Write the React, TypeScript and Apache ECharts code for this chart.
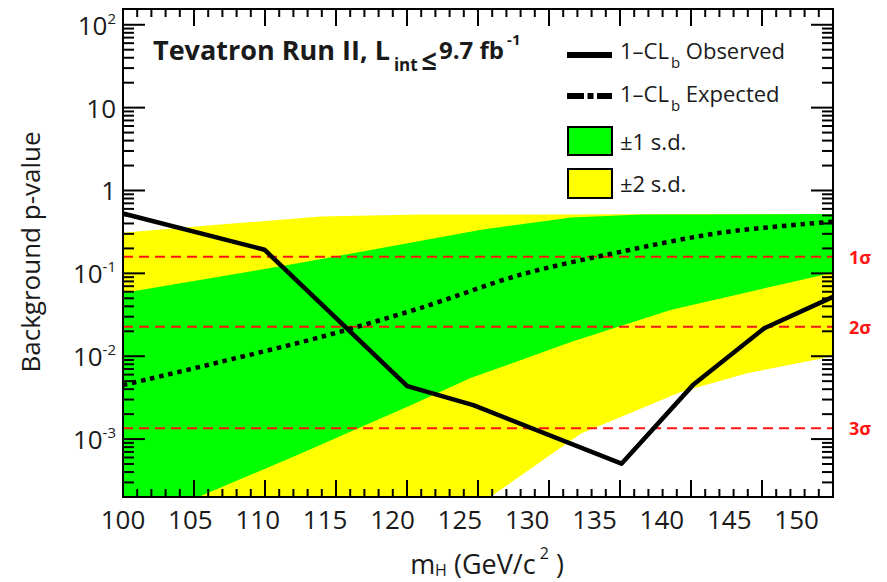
import React, { useEffect, useRef } from 'react';
import * as echarts from 'echarts';

// Axis ranges
const massMin = 100;
const massMax = 152.7;
const pMin = 2e-4;
const pMax = 155;
// Scale used for the frame tick marks (bottom and top edges)
const tickScaleMin = 100;
const tickScaleMax = 150;

// Observed 1-CL_b
const observedMass = [100, 110.5, 121.1, 126.0, 137.0, 142.3, 147.6, 152.7];
const observedP = [0.527, 0.193, 0.00436, 0.00257, 0.000505, 0.00448, 0.0218, 0.052];

// Expected 1-CL_b
const expectedMass = [100, 107.2, 114.7, 122.1, 129.5, 137.0, 144.4, 152.7];
const expectedP = [0.00448, 0.00851, 0.0171, 0.0383, 0.0962, 0.183, 0.31, 0.421];

// +-1 s.d. band
const oneSigmaUpperMass = [100, 113.2, 126.6, 133.3, 138.5, 152.7];
const oneSigmaUpperP = [0.058, 0.134, 0.337, 0.471, 0.512, 0.52];
const oneSigmaLowerMass = [100, 105.5, 113.2, 121.4, 125.8, 133.3, 140.7, 148.1, 152.7];
const oneSigmaLowerP = [8.1e-5, 1.97e-4, 6.7e-4, 2.57e-3, 5.45e-3, 0.0149, 0.0363, 0.0689, 0.102];

// +-2 s.d. band
const twoSigmaUpperMass = [100, 107.2, 114.7, 122.1, 152.7];
const twoSigmaUpperP = [0.31, 0.388, 0.484, 0.512, 0.52];
const twoSigmaLowerMass = [100, 120.6, 127.2, 134.0, 141.4, 146.4, 151.3, 152.7];
const twoSigmaLowerP = [1e-7, 3.4e-5, 1.97e-4, 1.17e-3, 3.69e-3, 6.26e-3, 9.0e-3, 0.01];

// Significance reference levels
const sigmaP = [0.1587, 0.02275, 0.00135];
const sigmaLabels = ['1σ', '2σ', '3σ'];

const FONT = '"Open Sans", "DejaVu Sans", sans-serif';
const INK = '#1a1a1a';
const RED = '#ff1414';
const GREEN = '#00ff00';
const YELLOW = '#ffff00';

const zip = (xs: number[], ys: number[]) => xs.map((x, i) => [x, ys[i]]);

// Rich-text helpers: a middle-aligned token moves down by half its top padding
// and up by half its bottom padding.
const subStyle = (size: number, drop: number, weight = 'normal', padLeft = 0) => ({
  fontSize: size,
  fontWeight: weight,
  fontFamily: FONT,
  fill: INK,
  color: INK,
  padding: [drop * 2, 0, 0, padLeft],
});
const supStyle = (size: number, rise: number, weight = 'normal', padLeft = 0) => ({
  fontSize: size,
  fontWeight: weight,
  fontFamily: FONT,
  fill: INK,
  color: INK,
  padding: [0, 0, rise * 2, padLeft],
});

function bandRenderer(ux: number[], up: number[], lx: number[], lp: number[], color: string) {
  return (params: any, api: any) => {
    const pts: number[][] = [];
    for (let i = 0; i < ux.length; i++) pts.push(api.coord([ux[i], up[i]]));
    for (let i = lx.length - 1; i >= 0; i--) pts.push(api.coord([lx[i], lp[i]]));
    const cs = params.coordSys;
    return {
      type: 'group',
      clipPath: { type: 'rect', shape: { x: cs.x, y: cs.y, width: cs.width, height: cs.height } },
      children: [{ type: 'polygon', shape: { points: pts }, style: { fill: color, stroke: null } }],
    };
  };
}

// Log-axis ticks on the left and right edges, plus the plot frame
function renderFrameY(params: any, api: any) {
  const cs = params.coordSys;
  const left = cs.x;
  const right = cs.x + cs.width;
  const children: any[] = [];
  for (let e = -4; e <= 2; e++) {
    for (let m = 1; m <= 9; m++) {
      const v = m * Math.pow(10, e);
      if (v < pMin || v > pMax) continue;
      const y = api.coord([massMin, v])[1];
      const len = m === 1 ? 22 : 11;
      children.push({ type: 'line', shape: { x1: left, y1: y, x2: left + len, y2: y }, style: { stroke: '#000', lineWidth: 2 } });
      children.push({ type: 'line', shape: { x1: right - len, y1: y, x2: right, y2: y }, style: { stroke: '#000', lineWidth: 2 } });
    }
  }
  children.push({
    type: 'rect',
    shape: { x: cs.x, y: cs.y, width: cs.width, height: cs.height },
    style: { fill: 'none', stroke: '#000', lineWidth: 2 },
  });
  return { type: 'group', children };
}

// Linear ticks on the bottom and top edges
function renderFrameX(params: any, api: any) {
  const cs = params.coordSys;
  const top = cs.y;
  const bottom = cs.y + cs.height;
  const children: any[] = [];
  for (let t = tickScaleMin; t <= tickScaleMax; t++) {
    const x = api.coord([t, 1])[0];
    const len = t % 5 === 0 ? 17 : 8;
    children.push({ type: 'line', shape: { x1: x, y1: bottom, x2: x, y2: bottom - len }, style: { stroke: '#000', lineWidth: 2 } });
    children.push({ type: 'line', shape: { x1: x, y1: top, x2: x, y2: top + len }, style: { stroke: '#000', lineWidth: 2 } });
  }
  return { type: 'group', children };
}

const legendText = (y: number, text: string) => ({
  type: 'text',
  x: 620,
  y,
  z: 100,
  style: {
    text,
    textAlign: 'left',
    textVerticalAlign: 'middle',
    rich: {
      a: { fontSize: 22, fontFamily: FONT, fill: INK },
      sub: subStyle(15, 12, 'normal', 2),
    },
  },
});

function buildOption(): any {
  const sigmaSeries = sigmaP.map((p, i) => ({
    type: 'line',
    name: sigmaLabels[i],
    data: [[massMin, p], [massMax, p]],
    symbol: 'none',
    silent: true,
    z: 2,
    lineStyle: { color: RED, width: 2, type: [10, 6] },
    endLabel: {
      show: true,
      formatter: () => sigmaLabels[i],
      color: RED,
      fontSize: 18,
      fontWeight: 'bold',
      fontFamily: FONT,
      distance: 16,
    },
  }));

  return {
    animation: false,
    backgroundColor: '#ffffff',
    grid: { left: 123, top: 9, width: 710, height: 488, outerBoundsMode: 'none', containLabel: false },
    xAxis: [
      {
        type: 'value',
        min: massMin,
        max: massMax,
        interval: 5,
        position: 'bottom',
        axisLine: { show: false },
        axisTick: { show: false },
        splitLine: { show: false },
        axisLabel: {
          fontSize: 26,
          fontFamily: FONT,
          color: INK,
          margin: 9,
          showMaxLabel: false,
          formatter: (v: number) => (Math.abs(v % 5) < 1e-6 ? String(v) : ''),
        },
      },
      { type: 'value', min: tickScaleMin, max: tickScaleMax, show: false },
    ],
    yAxis: {
      type: 'log',
      logBase: 10,
      min: pMin,
      max: pMax,
      splitNumber: 6,
      axisLine: { show: false },
      axisTick: { show: false },
      splitLine: { show: false },
      axisLabel: {
        margin: 7,
        formatter: (v: number) => {
          const e = Math.log10(v);
          const r = Math.round(e);
          if (Math.abs(e - r) > 1e-6) return '';
          if (r === 0) return '{b|1}';
          if (r === 1) return '{b|10}';
          return `{b|10}{s|${r}}`;
        },
        rich: {
          b: { fontSize: 26, fontFamily: FONT, color: INK },
          s: supStyle(15, 7),
        },
      },
    },
    series: [
      {
        type: 'custom',
        name: '±2 s.d.',
        xAxisIndex: 0,
        yAxisIndex: 0,
        z: 1,
        silent: true,
        clip: true,
        data: [[massMin, 1]],
        renderItem: bandRenderer(twoSigmaUpperMass, twoSigmaUpperP, twoSigmaLowerMass, twoSigmaLowerP, YELLOW),
      },
      {
        type: 'custom',
        name: '±1 s.d.',
        xAxisIndex: 0,
        yAxisIndex: 0,
        z: 1,
        silent: true,
        clip: true,
        data: [[massMin, 1]],
        renderItem: bandRenderer(oneSigmaUpperMass, oneSigmaUpperP, oneSigmaLowerMass, oneSigmaLowerP, GREEN),
      },
      ...sigmaSeries,
      {
        type: 'line',
        name: '1-CLb Expected',
        data: zip(expectedMass, expectedP),
        symbol: 'none',
        smooth: 0.3,
        silent: true,
        z: 3,
        lineStyle: { color: '#000', width: 4.5, type: [4.5, 4.8], cap: 'butt' },
      },
      {
        type: 'line',
        name: '1-CLb Observed',
        data: zip(observedMass, observedP),
        symbol: 'none',
        silent: true,
        z: 4,
        lineStyle: { color: '#000', width: 4.5, join: 'round' },
      },
      {
        type: 'custom',
        xAxisIndex: 0,
        yAxisIndex: 0,
        z: 10,
        silent: true,
        data: [[massMin, 1]],
        renderItem: renderFrameY,
      },
      {
        type: 'custom',
        xAxisIndex: 1,
        yAxisIndex: 0,
        z: 10,
        silent: true,
        data: [[tickScaleMin, 1]],
        renderItem: renderFrameX,
      },
    ],
    graphic: {
      elements: [
        {
          type: 'text',
          x: 153,
          y: 49,
          z: 100,
          style: {
            text: '{a|Tevatron Run II, L}{sub|int}{le|≤}{b|9.7 fb}{sup|-1}',
            textAlign: 'left',
            textVerticalAlign: 'middle',
            rich: {
              a: { fontSize: 27, fontWeight: 'bold', fontFamily: FONT, fill: INK },
              b: { fontSize: 24, fontWeight: 'bold', fontFamily: FONT, fill: INK },
              le: { fontSize: 27, fontWeight: 'bold', fontFamily: FONT, fill: INK, padding: [20, 2, 0, 4] },
              sub: subStyle(17, 15, 'bold', 4),
              sup: supStyle(15, 10, 'bold', 3),
            },
          },
        },
        // legend samples
        { type: 'line', z: 100, shape: { x1: 567, y1: 55, x2: 612, y2: 55 }, style: { stroke: '#000', lineWidth: 6 } },
        {
          type: 'line',
          z: 100,
          shape: { x1: 567, y1: 96, x2: 612, y2: 96 },
          style: { stroke: '#000', lineWidth: 6, lineDash: [17, 3.5, 6, 3.5] },
        },
        { type: 'rect', z: 100, shape: { x: 568, y: 127, width: 44, height: 28 }, style: { fill: GREEN, stroke: '#000', lineWidth: 2 } },
        { type: 'rect', z: 100, shape: { x: 568, y: 169, width: 44, height: 29 }, style: { fill: YELLOW, stroke: '#000', lineWidth: 2 } },
        legendText(50, '{a|1–CL}{sub|b}{a| Observed}'),
        legendText(93, '{a|1–CL}{sub|b}{a| Expected}'),
        legendText(141, '{a|±1 s.d.}'),
        legendText(183, '{a|±2 s.d.}'),
        // axis titles
        {
          type: 'text',
          x: 487,
          y: 563,
          style: {
            text: '{a|m}{sub|H}{a| (GeV/c}{sup| 2}{a| )}',
            textAlign: 'center',
            textVerticalAlign: 'middle',
            rich: {
              a: { fontSize: 27, fontFamily: FONT, fill: INK },
              sub: subStyle(16, 7),
              sup: supStyle(16, 10),
            },
          },
        },
        {
          type: 'text',
          x: 30,
          y: 252,
          rotation: Math.PI / 2,
          style: {
            text: 'Background p-value',
            fontSize: 26,
            fontFamily: FONT,
            fill: INK,
            textAlign: 'center',
            textVerticalAlign: 'middle',
          },
        },
      ],
    },
  };
}

export default function App() {
  const ref = useRef<HTMLDivElement>(null);
  useEffect(() => {
    if (!ref.current) return;
    const chart = echarts.init(ref.current, null, { renderer: 'svg' });
    chart.setOption(buildOption());
    return () => chart.dispose();
  }, []);
  return (
    <div
      ref={ref}
      style={{ position: 'fixed', left: 0, top: 0, width: 887, height: 582, background: '#fff' }}
    />
  );
}
